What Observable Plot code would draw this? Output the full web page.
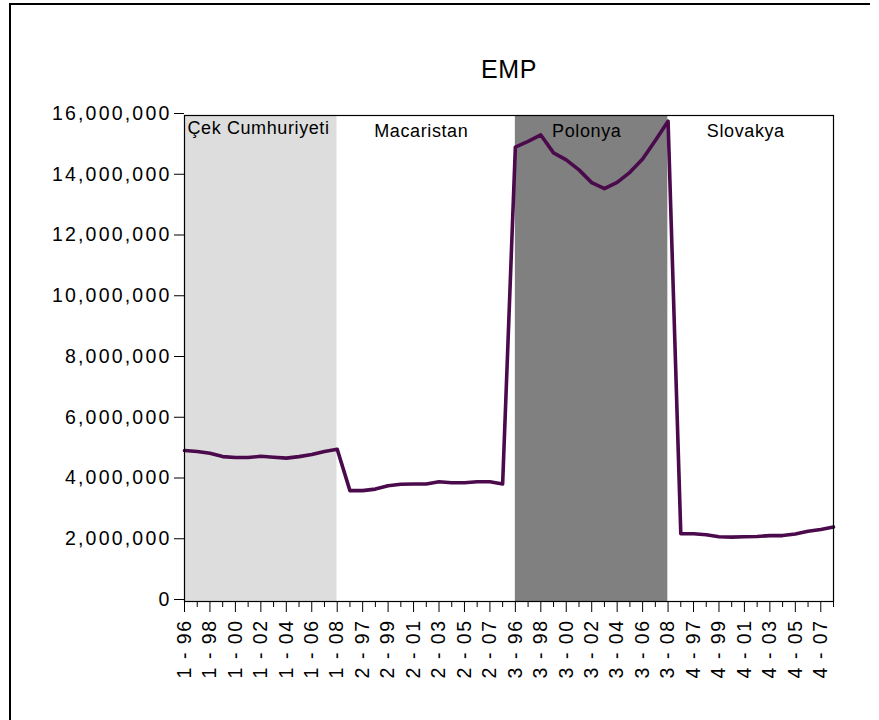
<!DOCTYPE html>
<html>
<head>
<meta charset="utf-8">
<script src="https://cdn.jsdelivr.net/npm/d3@7"></script>
<script src="https://cdn.jsdelivr.net/npm/@observablehq/plot@0.6"></script>
<style>
  html, body { margin: 0; padding: 0; background: white; }
  #wrap { position: relative; width: 879px; height: 720px; overflow: hidden; }
  #border { position: absolute; left: 9px; top: 3px; width: 861px; height: 730px;
            border-top: 2px solid black; border-left: 2px solid black; box-sizing: border-box; pointer-events: none; }
  g[aria-label="y-axis tick label"] text { letter-spacing: 2.2px; }
  g[aria-label="x-axis tick label"] text { letter-spacing: 1.5px; }
  g[aria-label="text"] text { letter-spacing: 0.6px; }
</style>
</head>
<body>
<div id="wrap"><div id="border"></div></div>
<script>
// Country panels
const countries = ["Çek Cumhuriyeti", "Macaristan", "Polonya", "Slovakya"];
const countryCodes = ["1", "2", "3", "4"];
// Years (two-digit tick labels)
const years = ["96", "97", "98", "99", "00", "01", "02", "03", "04", "05", "06", "07", "08"];

// EMP series, one per country, 1996–2008
const czech    = [4970000, 4940000, 4880000, 4770000, 4740000, 4740000, 4780000, 4750000, 4720000, 4770000, 4840000, 4940000, 5010000];
const hungary  = [3650000, 3650000, 3700000, 3810000, 3860000, 3870000, 3870000, 3940000, 3910000, 3910000, 3940000, 3940000, 3870000];
const poland   = [14960000, 15150000, 15360000, 14770000, 14540000, 14210000, 13790000, 13590000, 13800000, 14130000, 14570000, 15180000, 15810000];
const slovakia = [2230000, 2230000, 2200000, 2130000, 2120000, 2130000, 2140000, 2170000, 2170000, 2220000, 2310000, 2370000, 2450000];

const yTicks = [0, 2000000, 4000000, 6000000, 8000000, 10000000, 12000000, 14000000, 16000000];
const title = "EMP";

// Build table
const series = [czech, hungary, poland, slovakia];
const n = years.length;
const rows = series.flatMap((vals, c) => vals.map((v, k) => ({
  i: c * n + k,
  country: countries[c],
  label: `${countryCodes[c]} - ${years[k]}`,
  v
})));
const last = rows.length - 1;

// Panel bands (by observation index): shaded panels span their own first..last observation
const bands = [
  { country: countries[0], x1: 0,         x2: n - 1 },
  { country: countries[1], x1: n - 1,     x2: 2 * n },
  { country: countries[2], x1: 2 * n,     x2: 3 * n - 1 },
  { country: countries[3], x1: 3 * n - 1, x2: last }
];

const bandFill = { "Çek Cumhuriyeti": "#dddddd", "Macaristan": "#ffffff", "Polonya": "#808080", "Slovakya": "#ffffff" };

const evenIdx = rows.filter(d => d.i % 2 === 0).map(d => d.i);
const oddIdx = rows.filter(d => d.i % 2 === 1).map(d => d.i);

const chart = Plot.plot({
  width: 879,
  height: 720,
  marginLeft: 184,
  marginRight: 46,
  marginTop: 115,
  marginBottom: 119,
  x: { domain: [0, last] },
  y: { domain: [0, 16000000] },
  color: { type: "identity" },
  style: { fontFamily: "Arial, 'Liberation Sans', sans-serif", fontSize: "18px", color: "black", background: "transparent", overflow: "visible" },
  marks: [
    Plot.rect(bands, { x1: "x1", x2: "x2", y1: 0, y2: 16000000, fill: d => bandFill[d.country] }),
    Plot.line(rows, { x: "i", y: "v", stroke: "#4a0a4c", strokeWidth: 3.6 }),
    Plot.frame({ stroke: "black", strokeWidth: 1.2 }),
    Plot.axisY({ ticks: yTicks, tickFormat: d3.format(","), tickSize: 10, tickPadding: 3, fontSize: 19.5, dy: -2, label: null }),
    Plot.axisX({ ticks: evenIdx, tickFormat: i => rows[i].label, tickSize: 11, tickPadding: 7, tickRotate: -90, fontSize: 19.5, label: null }),
    Plot.axisX({ ticks: oddIdx, tickFormat: () => "", tickSize: 6, label: null }),
    Plot.text(bands.slice(0, 1), {
      x: "x1", y: 16000000, text: "country", textAnchor: "start",
      dx: 3, dy: 13, fontSize: 18, fill: "black"
    }),
    Plot.text(bands.slice(1), {
      x: d => (d.x1 + d.x2) / 2, y: 16000000, text: "country", textAnchor: "middle",
      dx: -5, dy: 16, fontSize: 18, fill: "black"
    }),
    Plot.text([title], { frameAnchor: "top", dy: -55, fontSize: 25, fill: "black" })
  ]
});
chart.style.position = "absolute";
chart.style.left = "0px";
chart.style.top = "0px";
document.getElementById("wrap").insertBefore(chart, document.getElementById("border"));
</script>
</body>
</html>
